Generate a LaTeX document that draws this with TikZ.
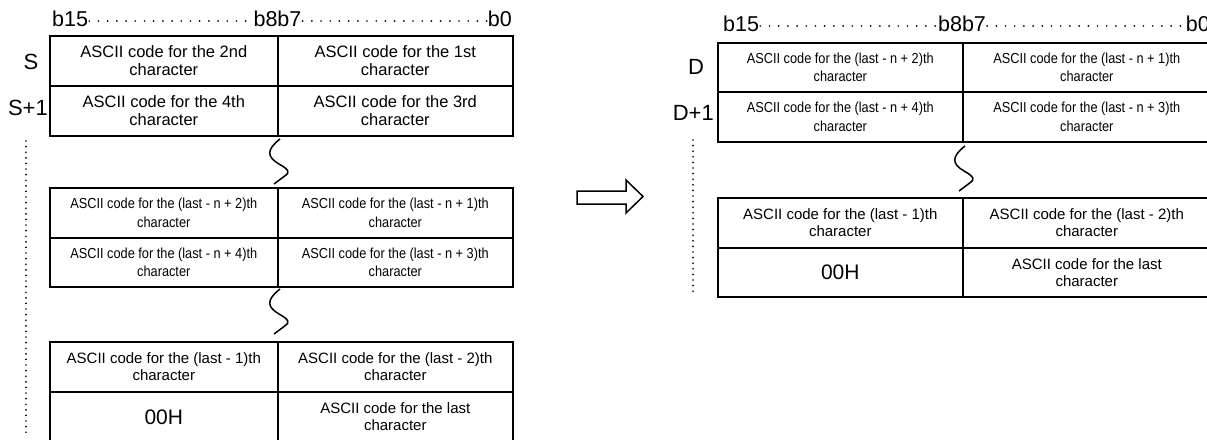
\documentclass[tikz,border=0pt]{standalone}
\usepackage{fontspec}
\setmainfont{Liberation Sans}
\newfontfamily\NarrowSans[FakeStretch=0.88]{Liberation Sans}
\newcommand\FBig{\fontsize{16.5}{18}\selectfont}
\newcommand\FMid{\fontsize{15}{17}\selectfont}
\newcommand\FSml{\NarrowSans\fontsize{14.5}{18.5}\selectfont}
\newcommand\FLab{\fontsize{22}{24}\selectfont}
\newcommand\FHdr{\fontsize{21.5}{24}\selectfont}
\newcommand\FHex{\fontsize{21}{23}\selectfont}
\tikzset{
  cellbox/.style={draw, line width=1.6pt, inner sep=0pt, align=center, anchor=north west},
  big/.style={cellbox, font=\FBig},
  mid/.style={cellbox, font=\FMid},
  sml/.style={cellbox, font=\FSml},
  hexcell/.style={cellbox, font=\FHex},
  lab/.style={font=\FLab, inner sep=0pt},
  hdr/.style={font=\FHdr, inner sep=0pt, anchor=base},
  bitdots/.style={line width=1.9pt, line cap=round, dash pattern=on 0pt off 9.2pt},
  vdots/.style={line width=1.9pt, line cap=round, dash pattern=on 0pt off 5.6pt},
  squig/.style={line width=1.5pt},
  blockarrow/.style={line width=1.5pt}
}
\begin{document}
\begin{tikzpicture}[x=1pt, y=-1pt]
\useasboundingbox (0,0) rectangle (1207,439);
\clip (0,0) rectangle (1207,439);

% ---------------- left table ----------------
% header
\node[hdr, anchor=base west] (lb15) at (52,26) {b15};
\node[hdr] (lb8) at (277.5,26) {b8b7};
\node[hdr, anchor=base east] (lb0) at (512,26) {b0};
\draw[bitdots] ([xshift=1pt,yshift=5pt]lb15.base east) -- ([yshift=5pt]lb8.base west);
\draw[bitdots] ([xshift=1pt,yshift=5pt]lb8.base east) -- ([yshift=5pt]lb0.base west);

% block 1
\node[big, minimum width=228pt, minimum height=50pt] (a11) at (49,35) {ASCII code for the 2nd\\character};
\node[big, minimum width=235pt, minimum height=50pt] (a12) at (277,35) {ASCII code for the 1st\\character};
\node[big, minimum width=228pt, minimum height=50pt] (a21) at (49,85) {ASCII code for the 4th\\character};
\node[big, minimum width=235pt, minimum height=50pt] (a22) at (277,85) {ASCII code for the 3rd\\character};

% block 2
\node[sml, minimum width=228pt, minimum height=50pt] (b11) at (49,187) {ASCII code for the (last - n + 2)th\\character};
\node[sml, minimum width=235pt, minimum height=50pt] (b12) at (277,187) {ASCII code for the (last - n + 1)th\\character};
\node[sml, minimum width=228pt, minimum height=49pt] (b21) at (49,237) {ASCII code for the (last - n + 4)th\\character};
\node[sml, minimum width=235pt, minimum height=49pt] (b22) at (277,237) {ASCII code for the (last - n + 3)th\\character};

% block 3
\node[mid, minimum width=228pt, minimum height=50pt] (c11) at (49,341) {ASCII code for the (last - 1)th\\character};
\node[mid, minimum width=235pt, minimum height=50pt] (c12) at (277,341) {ASCII code for the (last - 2)th\\character};
\node[hexcell, minimum width=228pt, minimum height=50pt] (c21) at (49,391) {00H};
\node[mid, minimum width=235pt, minimum height=50pt] (c22) at (277,391) {ASCII code for the last\\character};

% labels
\node[lab] (ls) at (31,62) {S};
\node[lab, anchor=east] (ls1) at (48,108) {S+1};
\coordinate (ldtop) at (26,141);
\coordinate (ldbot) at (26,437);
\draw[vdots] (ldtop) -- (ldbot);

% squiggles
\draw[squig] (280,139) .. controls (266,150) and (267,157) .. (279,164)
  .. controls (290,170) and (289,173) .. (286,175) -- (274,184);
\draw[squig] (280,289) .. controls (266,300) and (267,307) .. (279,314)
  .. controls (290,320) and (289,323) .. (286,325) -- (274,334);

% ---------------- arrow ----------------
\draw[blockarrow] (577,191) -- (626,191) -- (626,180) -- (643,196.5) -- (626,213) -- (626,204) -- (577,204) -- cycle;

% ---------------- right table ----------------
\node[hdr, anchor=base west] (rb15) at (723,31) {b15};
\node[hdr] (rb8) at (962,31) {b8b7};
\node[hdr, anchor=base east] (rb0) at (1210,31) {b0};
\draw[bitdots] ([xshift=1pt,yshift=5pt]rb15.base east) -- ([yshift=5pt]rb8.base west);
\draw[bitdots] ([xshift=1pt,yshift=5pt]rb8.base east) -- ([yshift=5pt]rb0.base west);

\node[sml, minimum width=245pt, minimum height=49pt] (d11) at (717,42) {ASCII code for the (last - n + 2)th\\character};
\node[sml, minimum width=248pt, minimum height=49pt] (d12) at (962,42) {ASCII code for the (last - n + 1)th\\character};
\node[sml, minimum width=245pt, minimum height=50pt] (d21) at (717,91) {ASCII code for the (last - n + 4)th\\character};
\node[sml, minimum width=248pt, minimum height=50pt] (d22) at (962,91) {ASCII code for the (last - n + 3)th\\character};

\node[mid, minimum width=245pt, minimum height=50pt] (e11) at (717,197) {ASCII code for the (last - 1)th\\character};
\node[mid, minimum width=248pt, minimum height=50pt] (e12) at (962,197) {ASCII code for the (last - 2)th\\character};
\node[hexcell, minimum width=245pt, minimum height=49pt] (e21) at (717,247) {00H};
\node[mid, minimum width=248pt, minimum height=49pt] (e22) at (962,247) {ASCII code for the last\\character};

\node[lab] (rd) at (696,67) {D};
\node[lab, anchor=east] (rd1) at (714,113) {D+1};
\coordinate (rdtop) at (693,140);
\coordinate (rdbot) at (693,295);
\draw[vdots] (rdtop) -- (rdbot);

\draw[squig] (965,146) .. controls (951,157) and (952,164) .. (964,171)
  .. controls (975,177) and (974,180) .. (971,182) -- (959,191);
\end{tikzpicture}
\end{document}
